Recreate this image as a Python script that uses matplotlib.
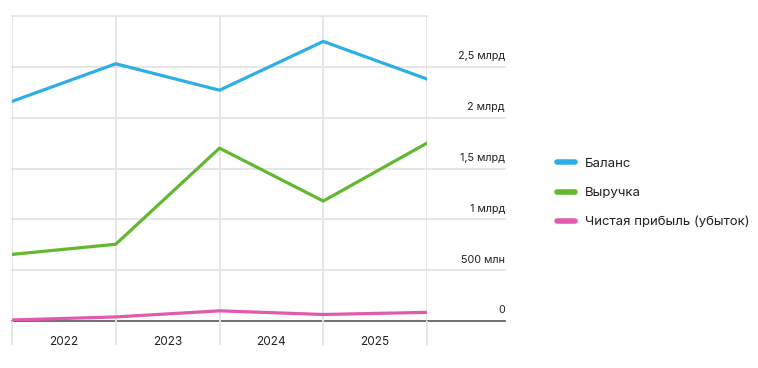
import numpy as np
import matplotlib.pyplot as plt
from matplotlib import transforms

plt.rcParams['font.family'] = ['Inter', 'DejaVu Sans']

years = ['2022', '2023', '2024', '2025']
balance = [2.16, 2.53, 2.27, 2.75, 2.38]      # млрд
revenue = [0.655, 0.755, 1.70, 1.18, 1.75]
profit = [0.01, 0.04, 0.10, 0.064, 0.085]
ytick_vals = [0, 0.5, 1, 1.5, 2, 2.5]
ytick_labels = ['0', '500 млн', '1 млрд', '1,5 млрд', '2 млрд', '2,5 млрд']
names = ['Баланс', 'Выручка', 'Чистая прибыль (убыток)']
colors = ['#2eaee6', '#62b82f', '#e05aae']

W, H = 758, 368
fig = plt.figure(figsize=(W / 100, H / 100), dpi=100)
ax = fig.add_axes([12 / W, 1 - 321 / H, (427 - 12) / W, (321 - 16) / H])

grid_c = '#e4e4e4'
txt_c = '#222222'
x = np.arange(len(balance))
for vals, c, n in zip([balance, revenue, profit], colors, names):
    ax.plot(x, vals, color=c, lw=2.3, label=n, solid_joinstyle='miter')

ax.set_xlim(0, 4)
ax.set_ylim(0, 3)
for s in ax.spines.values():
    s.set_visible(False)

# vertical grid + ticks extending below axis
ax.set_xticks(x)
ax.set_xticklabels([])
ax.tick_params(axis='x', which='major', length=17, width=1.3, color=grid_c)
ax.set_xticks(x[:-1] + 0.5, minor=True)
ax.set_xticklabels(years, minor=True, fontsize=8.5, color=txt_c)
ax.tick_params(axis='x', which='minor', length=0, pad=11)
ax.grid(True, axis='x', color=grid_c, lw=1.3)

# horizontal grid extending right
trans = transforms.blended_transform_factory(ax.transAxes, ax.transData)
ext = (505 - 12) / (427 - 12)
ax.axhline(3, color=grid_c, lw=1.3, clip_on=False)
for v, lab in zip(ytick_vals, ytick_labels):
    if v == 0:
        ax.plot([0, ext], [v, v], transform=trans, color='#555555', lw=1.2, clip_on=False, zorder=1)
    else:
        ax.plot([0, ext], [v, v], transform=trans, color=grid_c, lw=1.3, clip_on=False, zorder=0)
    ax.annotate(lab, xy=(ext, v), xycoords=trans, xytext=(0, 4), textcoords='offset points',
                ha='right', va='bottom', fontsize=7.8, color=txt_c)
ax.set_yticks([])

leg = fig.legend(loc='center left', bbox_to_anchor=(557 / W, 1 - 193 / H), frameon=False,
                 borderpad=0, borderaxespad=0, handlelength=1.35, handletextpad=0.8,
                 labelspacing=1.28, fontsize=9.5)
for h in leg.legend_handles:
    h.set_linewidth(4)
    h.set_solid_capstyle('round')
for t in leg.get_texts():
    t.set_color(txt_c)

fig.savefig('out.png', dpi=100)
